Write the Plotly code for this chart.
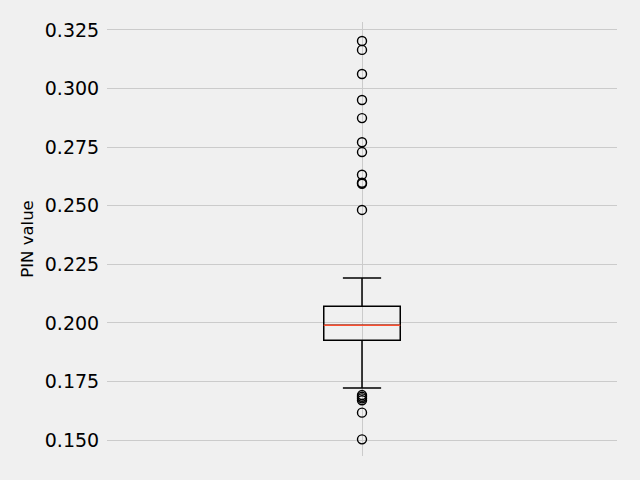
import plotly.graph_objects as go

# Box statistics
position = [1]
lower_whisker = [0.1722]
q1 = [0.1926]
median = [0.1990]
q3 = [0.2071]
upper_whisker = [0.2192]

# Outliers (fliers)
outliers = [0.3203, 0.3165, 0.3062, 0.2951, 0.2874, 0.2771, 0.2729, 0.2632,
            0.2598, 0.2594, 0.2482,
            0.1692, 0.1685, 0.1678, 0.1670, 0.1617, 0.1503]

y_ticks = [0.150, 0.175, 0.200, 0.225, 0.250, 0.275, 0.300, 0.325]

box_width = 0.15
BG = "#f0f0f0"
GRID = "#cbcbcb"

fig = go.Figure()
fig.add_trace(go.Box(
    x=position, q1=q1, median=median, q3=q3,
    lowerfence=lower_whisker, upperfence=upper_whisker,
    width=box_width, whiskerwidth=0.5,
    fillcolor="rgba(0,0,0,0)",
    line=dict(color="black", width=1.5),
    boxpoints=False, showlegend=False, hoverinfo="skip",
))
# median line in red-orange
fig.add_trace(go.Scatter(
    x=[position[0] - box_width / 2, position[0] + box_width / 2],
    y=[median[0], median[0]],
    mode="lines", line=dict(color="#fc4f30", width=1.3),
    showlegend=False, hoverinfo="skip",
))
# outliers
fig.add_trace(go.Scatter(
    x=[position[0]] * len(outliers), y=outliers,
    mode="markers",
    marker=dict(symbol="circle-open", size=9, color="black",
                line=dict(color="black", width=1.4)),
    showlegend=False, hoverinfo="skip",
))

fig.update_layout(
    width=640, height=480,
    paper_bgcolor=BG, plot_bgcolor=BG,
    margin=dict(l=107, r=23, t=22, b=24),
    font=dict(family="DejaVu Sans", color="black"),
    xaxis=dict(range=[0.5, 1.5], tickvals=[1], ticktext=[""],
               showgrid=True, gridcolor=GRID, gridwidth=1.4,
               zeroline=False, showline=False, ticks=""),
    yaxis=dict(range=[0.1432, 0.3284], tickvals=y_ticks,
               tickformat=".3f", showgrid=True, gridcolor=GRID,
               gridwidth=1.4, zeroline=False, showline=False,
               ticks="outside", ticklen=3, tickcolor=BG,
               tickfont=dict(size=19, family="DejaVu Sans", color="black"),
               title=dict(text="PIN value", standoff=7,
                          font=dict(size=16.5, family="DejaVu Sans", color="black"))),
)

fig.write_html("out.html")
